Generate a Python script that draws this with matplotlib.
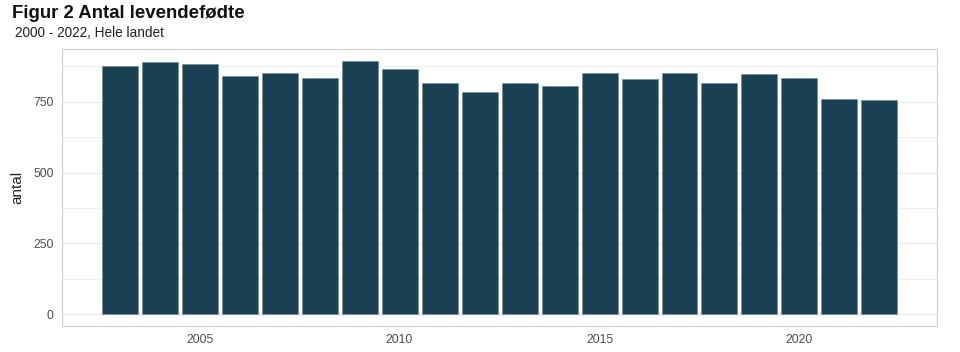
import matplotlib
matplotlib.use('Agg')
import matplotlib.pyplot as plt
from matplotlib.ticker import MultipleLocator

plt.rcParams['font.family'] = ['Liberation Sans', 'DejaVu Sans']

# data
years = [2003, 2004, 2005, 2006, 2007, 2008, 2009, 2010, 2011, 2012,
         2013, 2014, 2015, 2016, 2017, 2018, 2019, 2020, 2021, 2022]
antal = [877, 890, 883, 842, 852, 833, 895, 867, 818, 784,
         818, 805, 852, 829, 852, 818, 848, 835, 760, 756]
x_ticks = [2005, 2010, 2015, 2020]
y_ticks = [0, 250, 500, 750]

BAR = '#1a4153'
GRID = '#ebebeb'

fig = plt.figure(figsize=(9.6, 3.52), dpi=100, facecolor='white')
ax = fig.add_axes([0.0646, 0.074, 0.9115, 0.787])

ax.bar(years, antal, width=0.9, color=BAR, edgecolor='#6f8a96',
       linewidth=0.4, zorder=3)

ax.set_xlim(2001.56, 2023.44)
ax.set_ylim(-42, 937)
ax.set_xticks(x_ticks)
ax.set_yticks(y_ticks)
ax.yaxis.set_minor_locator(MultipleLocator(125))
ax.grid(axis='y', which='major', color=GRID, linewidth=1.0, zorder=0)
ax.grid(axis='y', which='minor', color=GRID, linewidth=0.6, zorder=0)
ax.tick_params(which='both', length=0, labelsize=8.8, colors='#4d4d4d',
               pad=6)
for spine in ax.spines.values():
    spine.set_edgecolor('#d4d4d4')
    spine.set_linewidth(0.9)

ax.set_ylabel('antal', fontsize=11, color='#222222', labelpad=6)

fig.text(0.0125, 0.963, 'Figur 2 Antal levendefødte', fontsize=13.4,
         fontweight='bold', color='#111111', ha='left', va='center')
fig.text(0.0155, 0.905, '2000 - 2022, Hele landet', fontsize=9.8,
         color='#222222', ha='left', va='center')

fig.savefig('out.png', dpi=100, facecolor='white')
